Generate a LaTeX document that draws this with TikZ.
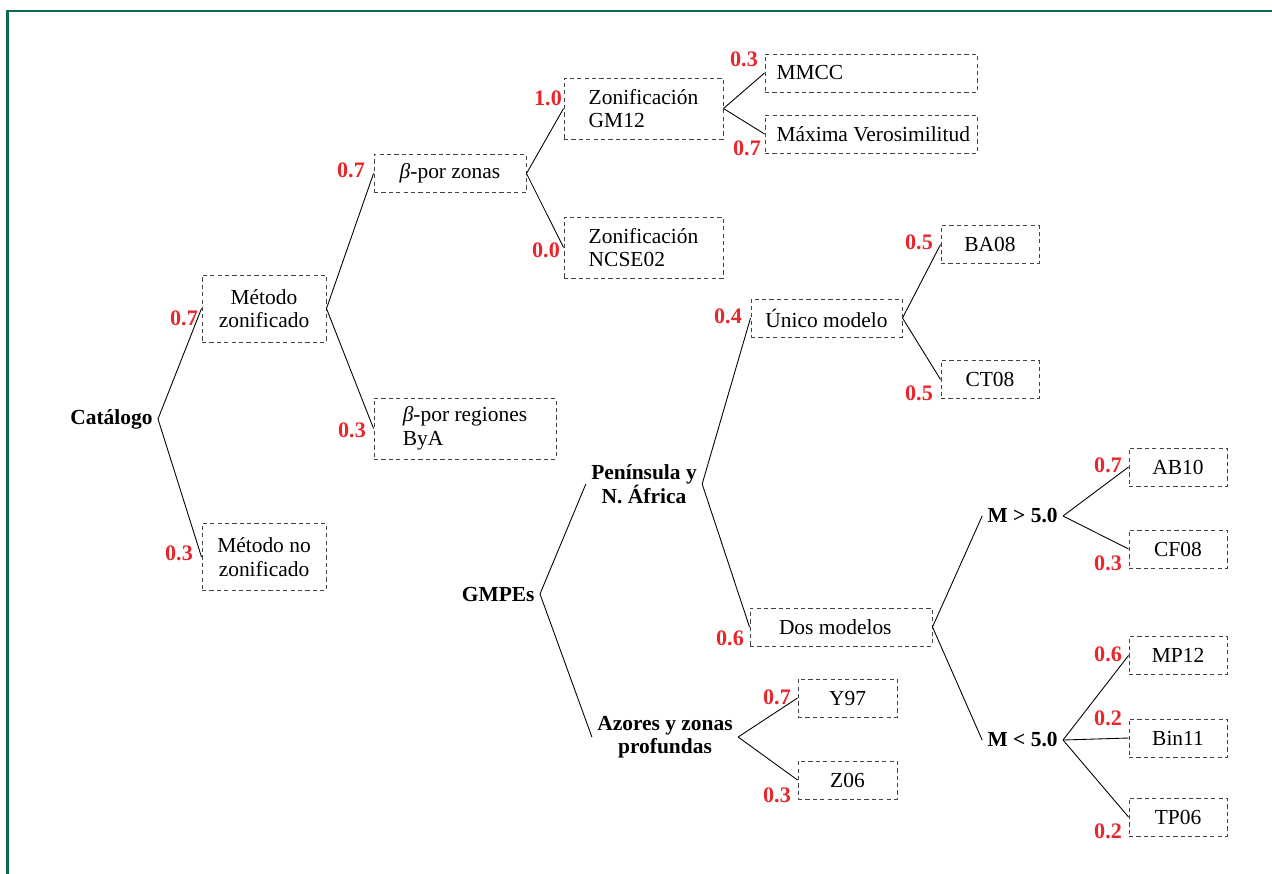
\documentclass[tikz,border=0pt]{standalone}
\usepackage{fontspec}
\setmainfont{Liberation Serif}
\usepackage{xcolor}
\definecolor{framegreen}{HTML}{0B6B50}
\definecolor{probred}{HTML}{E8262B}
\definecolor{dashgray}{HTML}{444444}
\usepackage{tikz}
\tikzset{
  every picture/.style={font=\fontsize{12.2}{13.4}\selectfont, line width=0.5pt},
  leaf/.style={draw=dashgray, line width=0.55pt, dash pattern=on 2.4pt off 1.8pt, align=center, inner sep=3pt,
    minimum width=#1, minimum height=0.76cm},
  leaf/.default=1.96cm,
  hub/.style={font=\fontsize{12.2}{13.4}\selectfont\bfseries, align=center, inner xsep=0.1cm, inner ysep=2pt},
  prob/.style={text=probred, font=\fontsize{12.6}{13.4}\selectfont\bfseries, inner sep=0pt},
  branch/.style={draw=black},
  border/.style={draw=framegreen, line width=1.7pt},
}
\begin{document}
\begin{tikzpicture}
  \useasboundingbox (0,0) rectangle (25.44,-17.46);
  \draw[border] (0.15,-17.8) -- (0.15,-0.22) -- (25.8,-0.22);
  % catalogue branch
  \node[hub, anchor=east] (cat) at (3.16,-8.38) {Catálogo};
  \node[leaf=2.48cm, minimum height=1.34cm] (mz) at (5.28,-6.17) {Método\\zonificado};
  \node[leaf=2.48cm, minimum height=1.34cm] (mnz) at (5.28,-11.14) {Método no\\zonificado};
  \node[leaf=3.04cm] (bz) at (9.0,-3.47) {\textit{β}-por zonas};
  \node[leaf=3.64cm, minimum height=1.22cm, align=left] (br) at (9.3,-8.57) {\textit{β}-por regiones\\ByA};
  \node[leaf=3.18cm, minimum height=1.22cm, align=left] (gm) at (12.87,-2.17) {Zonificación\\GM12};
  \node[leaf=3.18cm, minimum height=1.22cm, align=left] (ncse) at (12.87,-4.95) {Zonificación\\NCSE02};
  \node[leaf=4.24cm, text width=3.98cm, align=flush left, inner xsep=0.13cm] (mmcc) at (17.42,-1.46) {\hspace*{0.1cm}MMCC};
  \node[leaf=4.24cm, text width=3.98cm, align=flush left, inner xsep=0.13cm] (mv) at (17.42,-2.68) {\hspace*{0.1cm}Máxima Verosimilitud};
  % gmpe branch
  \node[hub, anchor=east] (gmpe) at (10.8,-11.88) {GMPEs};
  \node[hub] (pen) at (12.88,-9.68) {Península y\\N. África};
  \node[hub] (azo) at (13.3,-14.74) {Azores y zonas\\profundas};
  \node[leaf=3.02cm] (um) at (16.53,-6.36) {Único modelo};
  \node[leaf] (ba) at (19.8,-4.89) {BA08};
  \node[leaf] (ct) at (19.8,-7.59) {CT08};
  \node[leaf=3.64cm, text width=2.48cm, align=flush left, inner xsep=0.58cm] (dm) at (16.82,-12.54) {Dos modelos};
  \node[leaf=1.98cm] (y97) at (16.95,-13.96) {Y97};
  \node[leaf=1.98cm] (z06) at (16.95,-15.6) {Z06};
  \node[hub, anchor=east] (mg) at (21.26,-10.32) {M > 5.0};
  \node[hub, anchor=east] (ml) at (21.26,-14.8) {M < 5.0};
  \node[leaf] (ab) at (23.56,-9.34) {AB10};
  \node[leaf] (cf) at (23.56,-10.98) {CF08};
  \node[leaf] (mp) at (23.56,-13.11) {MP12};
  \node[leaf] (bin) at (23.56,-14.76) {Bin11};
  \node[leaf] (tp) at (23.56,-16.34) {TP06};
  % branches
  \draw[branch] (cat.east) -- (mz.west);
  \draw[branch] (cat.east) -- (mnz.west);
  \draw[branch] (mz.east) -- (bz.west);
  \draw[branch] (mz.east) -- (br.west);
  \draw[branch] (bz.east) -- (gm.west);
  \draw[branch] (bz.east) -- (ncse.west);
  \draw[branch] (gm.east) -- (mmcc.west);
  \draw[branch] (gm.east) -- (mv.west);
  \draw[branch] (gmpe.east) -- (pen.west);
  \draw[branch] (gmpe.east) -- (azo.west);
  \draw[branch] (pen.east) -- (um.west);
  \draw[branch] (pen.east) -- (dm.west);
  \draw[branch] (um.east) -- (ba.west);
  \draw[branch] (um.east) -- (ct.west);
  \draw[branch] (dm.east) -- (mg.west);
  \draw[branch] (dm.east) -- (ml.west);
  \draw[branch] (mg.east) -- (ab.west);
  \draw[branch] (mg.east) -- (cf.west);
  \draw[branch] (ml.east) -- (mp.west);
  \draw[branch] (ml.east) -- (bin.west);
  \draw[branch] (ml.east) -- (tp.west);
  \draw[branch] (azo.east) -- (y97.west);
  \draw[branch] (azo.east) -- (z06.west);
  % weights
  \node[prob] (p-mz) at (3.68,-6.36) {0.7};
  \node[prob] (p-mnz) at (3.58,-11.06) {0.3};
  \node[prob] (p-bz) at (7.02,-3.40) {0.7};
  \node[prob] (p-br) at (7.04,-8.60) {0.3};
  \node[prob] (p-gm) at (10.96,-1.96) {1.0};
  \node[prob] (p-ncse) at (10.92,-5.00) {0.0};
  \node[prob] (p-mmcc) at (14.88,-1.18) {0.3};
  \node[prob] (p-mv) at (14.94,-2.96) {0.7};
  \node[prob] (p-um) at (14.56,-6.32) {0.4};
  \node[prob] (p-ba) at (18.38,-4.84) {0.5};
  \node[prob] (p-ct) at (18.38,-7.86) {0.5};
  \node[prob] (p-dm) at (14.60,-12.76) {0.6};
  \node[prob] (p-y97) at (15.54,-13.94) {0.7};
  \node[prob] (p-z06) at (15.54,-15.90) {0.3};
  \node[prob] (p-ab) at (22.16,-9.30) {0.7};
  \node[prob] (p-cf) at (22.16,-11.26) {0.3};
  \node[prob] (p-mp) at (22.16,-13.08) {0.6};
  \node[prob] (p-bin) at (22.16,-14.36) {0.2};
  \node[prob] (p-tp) at (22.16,-16.62) {0.2};
\end{tikzpicture}
\end{document}
